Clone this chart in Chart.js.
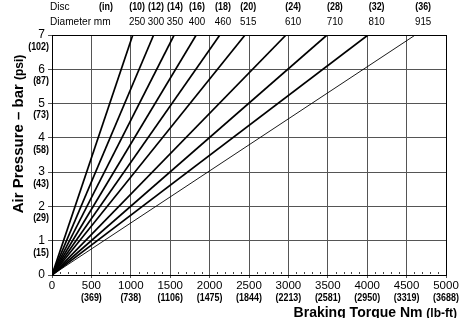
<!DOCTYPE html>
<html>
<head>
<meta charset="utf-8">
<style>
  html, body { margin: 0; padding: 0; background: #fff; }
  #wrap { width: 474px; height: 318px; }
</style>
<script src="https://cdn.jsdelivr.net/npm/chart.js@4/dist/chart.umd.min.js"></script>
</head>
<body>
<div id="wrap"><canvas id="chart" width="474" height="318"></canvas></div>
<script>
const FONT = "'Liberation Sans', Arial, sans-serif";

// disc sizes, one line each
const discInch = ['(10)', '(12)', '(14)', '(16)', '(18)', '(20)', '(24)', '(28)', '(32)', '(36)'];
const discMm = ['250', '300', '350', '400', '460', '515', '610', '710', '810', '915'];
// torque (Nm) where each line meets 7 bar
const torqueAt7Bar = [1025, 1290, 1550, 1830, 2130, 2450, 2970, 3490, 4010, 4610];
// where the disc labels sit above the frame (Nm)
const discLabelNm = [1080, 1320, 1560, 1840, 2170, 2490, 3060, 3590, 4120, 4710];

const pressureBar = [0, 1, 2, 3, 4, 5, 6, 7];
const pressurePsi = ['', '(15)', '(29)', '(43)', '(58)', '(73)', '(87)', '(102)'];
const torqueNm = [0, 500, 1000, 1500, 2000, 2500, 3000, 3500, 4000, 4500, 5000];
const torqueLbft = ['', '(369)', '(738)', '(1106)', '(1475)', '(1844)', '(2213)', '(2581)', '(2950)', '(3319)', '(3688)'];

const datasets = torqueAt7Bar.map((t, i) => ({
  label: discMm[i],
  data: [{ x: 0, y: 0 }, { x: t, y: 7 }],
  showLine: true,
  borderColor: '#000',
  borderWidth: i === torqueAt7Bar.length - 1 ? 0.9 : 1.7,
  pointRadius: 0
}));

// condensed text: squeeze horizontally around the anchor
function narrow(ctx, text, px, py, font, align, sx) {
  ctx.save();
  ctx.font = font;
  ctx.textAlign = align;
  ctx.translate(px, py);
  ctx.scale(sx, 1);
  ctx.fillText(text, 0, 0);
  ctx.restore();
}

const extras = {
  id: 'extras',
  afterDraw(chart) {
    const { ctx, chartArea: a, scales: { x, y } } = chart;
    ctx.save();
    // frame
    ctx.strokeStyle = '#000';
    ctx.lineWidth = 1;
    ctx.strokeRect(a.left + 0.5, a.top + 0.5, a.right - a.left, a.bottom - a.top);

    // minor ticks every 100 Nm along the bottom
    ctx.strokeStyle = '#444';
    for (let v = 100; v < 5000; v += 100) {
      if (v % 500 === 0) continue;
      const px = Math.round(x.getPixelForValue(v)) + 0.5;
      ctx.beginPath();
      ctx.moveTo(px, a.bottom - 1);
      ctx.lineTo(px, a.bottom - 3);
      ctx.stroke();
    }

    ctx.fillStyle = '#000';
    ctx.textBaseline = 'middle';
    const subFont = `bold 10.5px ${FONT}`;
    // psi labels
    pressureBar.forEach((b, i) => {
      if (!pressurePsi[i]) return;
      narrow(ctx, pressurePsi[i], 49, y.getPixelForValue(b) + 12, subFont, 'right', 0.85);
    });
    // lb-ft labels
    torqueNm.forEach((t, i) => {
      if (!torqueLbft[i]) return;
      narrow(ctx, torqueLbft[i], x.getPixelForValue(t), 298, subFont, 'center', 0.85);
    });

    // disc header
    narrow(ctx, 'Disc', 50, 7, `11.5px ${FONT}`, 'left', 0.88);
    narrow(ctx, 'Diameter mm', 50, 22, `11.5px ${FONT}`, 'left', 0.88);
    narrow(ctx, '(in)', 106, 7, subFont, 'center', 0.85);
    discLabelNm.forEach((t, i) => {
      const px = x.getPixelForValue(t);
      narrow(ctx, discInch[i], px, 7, subFont, 'center', 0.85);
      narrow(ctx, discMm[i], px, 22, `11.5px ${FONT}`, 'center', 0.85);
    });

    // x title
    ctx.textBaseline = 'alphabetic';
    ctx.textAlign = 'right';
    ctx.font = `bold 12px ${FONT}`;
    const small = '(lb-ft)';
    const sw = ctx.measureText(small).width;
    ctx.fillText(small, 457, 317);
    ctx.font = `bold 14px ${FONT}`;
    ctx.fillText('Braking Torque Nm ', 457 - sw, 317);

    // y title
    ctx.translate(23, 134);
    ctx.rotate(-Math.PI / 2);
    ctx.textAlign = 'left';
    ctx.font = `bold 15px ${FONT}`;
    const main = 'Air Pressure \u2013 bar ';
    const mw = ctx.measureText(main).width;
    ctx.font = `bold 12px ${FONT}`;
    const pw = ctx.measureText('(psi)').width;
    const start = -(mw + pw) / 2;
    ctx.font = `bold 15px ${FONT}`;
    ctx.fillText(main, start, 0);
    ctx.font = `bold 12px ${FONT}`;
    ctx.fillText('(psi)', start + mw, 0);
    ctx.restore();
  }
};

new Chart(document.getElementById('chart'), {
  type: 'scatter',
  data: { datasets },
  options: {
    responsive: false,
    animation: false,
    events: [],
    layout: { padding: { top: 35, right: 28, left: 0, bottom: 0 } },
    plugins: { legend: { display: false }, tooltip: { enabled: false } },
    scales: {
      x: {
        type: 'linear',
        min: 0,
        max: 5000,
        afterFit: (s) => { s.height = 43; },
        afterBuildTicks: (s) => { s.ticks = torqueNm.map((v) => ({ value: v })); },
        border: { color: '#000', width: 1 },
        grid: { color: '#555', lineWidth: 1, tickLength: 3 },
        ticks: {
          color: '#000',
          padding: 1,
          maxRotation: 0,
          autoSkip: false,
          font: { family: FONT, size: 11.5 },
          callback: (v) => String(v)
        }
      },
      y: {
        type: 'linear',
        min: 0,
        max: 7,
        afterFit: (s) => { s.width = 52; },
        afterBuildTicks: (s) => { s.ticks = pressureBar.map((v) => ({ value: v })); },
        border: { color: '#000', width: 1 },
        grid: { color: '#555', lineWidth: 1, tickLength: 4 },
        ticks: {
          color: '#000',
          padding: 3,
          font: { family: FONT, size: 12 },
          callback: (v) => String(v)
        }
      }
    }
  },
  plugins: [extras]
});
</script>
</body>
</html>
